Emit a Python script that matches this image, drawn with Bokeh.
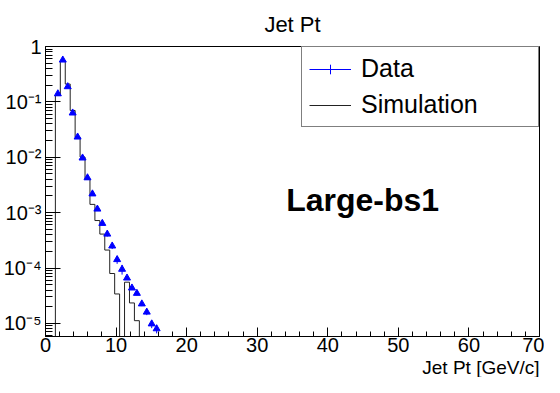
import math
from bokeh.plotting import figure
from bokeh.models import (Range1d, FixedTicker, Legend, LegendItem, Label, Title)
from bokeh.embed import file_html
from bokeh.resources import INLINE

# ---- data ----
bin_edges = [1.4, 2.1, 2.8, 3.5, 4.2, 4.9, 5.6, 6.3, 7.0, 7.7, 8.4, 9.1, 9.8,
             10.5, 11.2, 11.9, 12.6, 13.3, 14.0, 14.7, 15.4, 16.1]
data_vals = [0.14, 0.57, 0.188, 0.063, 0.0232, 0.0097, 0.00426, 0.00218,
             0.00116, 0.00064, 0.00041, 0.00025, 0.000142, 9.5e-5, 6.6e-5,
             4.36e-5, 3.49e-5, 2.25e-5, 1.6e-5, 9.8e-6, 8.0e-6]
data_errs = [0.0007, 0.0014, 0.0008, 0.0005, 0.0003, 0.0002, 0.00013, 9e-5,
             7e-5, 5e-5, 4e-5, 3e-5, 2.3e-5, 1.9e-5, 3.7e-6, 3.0e-6, 2.7e-6,
             2.0e-6, 1.9e-6, 1.6e-6, 1.4e-6]
sim_vals = [0.131, 0.548, 0.21, 0.070, 0.023, 0.0101, 0.0040, 0.00141,
            0.00072, 0.00041, 0.000211, 7.96e-5, 3.4e-5, 0.0, 5.55e-5,
            2.34e-5, 1.12e-5, 0.0, 0.0, 0.0, 0.0]

x_major = [0, 10, 20, 30, 40, 50, 60, 70]
x_minor = list(range(0, 71, 2))
y_major = [1e-5, 1e-4, 1e-3, 1e-2, 1e-1, 1.0]
y_labels = ["10\u207b\u2075", "10\u207b\u2074", "10\u207b\u00b3", "10\u207b\u00b2", "10\u207b\u00b9", "1"]
y_minor = [k * 10.0 ** e for e in range(-6, 0) for k in range(2, 10)]

FONT = "Liberation Sans"
FLOOR = 1e-9

centers = [(bin_edges[i] + bin_edges[i + 1]) / 2 for i in range(len(data_vals))]

# step path of the simulation histogram
sx, sy = [bin_edges[0]], [FLOOR]
for i, v in enumerate(sim_vals):
    vv = v if v > 0 else FLOOR
    sx += [bin_edges[i], bin_edges[i + 1]]
    sy += [vv, vv]
sx.append(bin_edges[-1]); sy.append(FLOOR)

p = figure(width=544, height=377, output_backend="svg", toolbar_location=None,
           y_axis_type="log", x_range=Range1d(0, 70), y_range=Range1d(5.8e-6, 1.0),
           min_border_left=36, min_border_right=5, min_border_top=34,
           min_border_bottom=0)
p.background_fill_color = "white"
p.border_fill_color = "white"
p.outline_line_color = "black"
p.outline_line_width = 1
p.xgrid.visible = False
p.ygrid.visible = False

p.title.text = "Jet Pt"
p.title.align = "center"
p.title.text_font = FONT
p.title.text_font_size = "22px"
p.title.text_font_style = "normal"
p.title.text_color = "black"
p.title.standoff = 19

# x axis
xa = p.xaxis[0]
xa.ticker = FixedTicker(ticks=x_major, minor_ticks=x_minor)
xa.major_tick_in = 9
xa.major_tick_out = 0
xa.minor_tick_in = 5
xa.minor_tick_out = 0
xa.major_label_standoff = 1
xa.major_label_text_font = FONT
xa.major_label_text_font_size = "20px"
xa.major_label_text_color = "black"
xa.axis_line_color = "black"
xa.major_tick_line_color = "black"
xa.minor_tick_line_color = "black"

# y axis
ya = p.yaxis[0]
ya.ticker = FixedTicker(ticks=y_major, minor_ticks=y_minor)
ya.major_label_overrides = {t: l for t, l in zip(y_major, y_labels)}
ya.major_tick_in = 15
ya.major_tick_out = 0
ya.minor_tick_in = 7
ya.minor_tick_out = 0
ya.major_label_standoff = 4
ya.major_label_text_font = FONT
ya.major_label_text_font_size = "20px"
ya.major_label_text_color = "black"
ya.axis_line_color = "black"
ya.major_tick_line_color = "black"
ya.minor_tick_line_color = "black"

# x axis title, right-aligned under the axis end
p.add_layout(Title(text="Jet Pt [GeV/c]", align="right", text_font=FONT,
                   text_font_size="19px", text_font_style="normal",
                   text_color="black", standoff=0), "below")

# simulation histogram
hist_r = p.line(sx, sy, line_color="#222222", line_width=1)

# data points
lo = [v - e for v, e in zip(data_vals, data_errs)]
hi = [v + e for v, e in zip(data_vals, data_errs)]
err_r = p.segment(x0=centers, y0=lo, x1=centers, y1=hi, line_color="blue", line_width=1)
p.scatter(centers, data_vals, marker="triangle", size=7, fill_color="blue",
          line_color="blue")
cross_r = p.scatter([float("nan")], [float("nan")], marker="cross", size=20,
                    line_color="blue", line_width=1)

legend = Legend(items=[LegendItem(label="Data", renderers=[err_r, cross_r]),
                       LegendItem(label="Simulation", renderers=[hist_r])],
                location="top_right", margin=0, padding=7, spacing=7,
                glyph_width=42, glyph_height=24, label_standoff=10,
                label_width=170, label_height=24,
                label_text_font=FONT, label_text_font_size="25px",
                label_text_color="black",
                border_line_color="black", border_line_width=1,
                background_fill_color="white", background_fill_alpha=1.0)
p.add_layout(legend)

p.add_layout(Label(x=34.1, y=1.72e-3, text="Large-bs1", text_font=FONT,
                   text_font_size="32px", text_font_style="bold",
                   text_baseline="middle", text_align="left", text_color="black"))

open("out.html", "w").write(file_html(p, INLINE))
